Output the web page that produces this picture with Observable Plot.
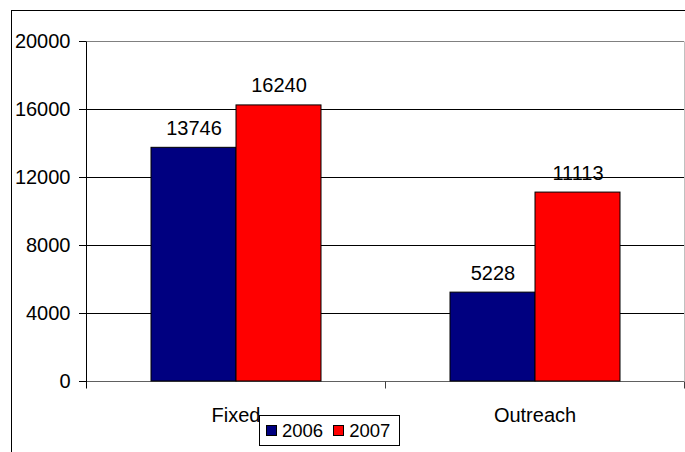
<!DOCTYPE html>
<html>
<head>
<meta charset="utf-8">
<script src="https://cdn.jsdelivr.net/npm/d3@7"></script>
<script src="https://cdn.jsdelivr.net/npm/@observablehq/plot@0.6"></script>
<style>
  body { margin: 0; background: #fff; }
  #wrap { position: relative; width: 685px; height: 452px; overflow: hidden; font-family: "Liberation Sans", Arial, sans-serif; background: #fff; }
  #border { position: absolute; left: 11px; top: 10px; width: 720px; height: 520px; border: 1px solid #000; box-sizing: border-box; }
  #chart { position: absolute; left: 0; top: 0; }
  #legend { position: absolute; left: 259px; top: 415px; width: 141px; height: 31px; border: 1px solid #000; background: #fff; box-sizing: border-box; display: flex; align-items: center; font-size: 18.5px; color: #000; padding-left: 6px; }
  #legend .sw { width: 11px; height: 11px; box-sizing: border-box; border: 1px solid #000; display: inline-block; margin-right: 5px; }
  #legend .item { display: flex; align-items: center; margin-right: 10px; }
</style>
</head>
<body>
<div id="wrap">
  <div id="border"></div>
  <div id="chart"></div>
  <div id="legend"></div>
</div>
<script>
const categories = ["Fixed", "Outreach"];
const years = ["2006", "2007"];
const values2006 = [13746, 5228];
const values2007 = [16240, 11113];
const yTicks = [0, 4000, 8000, 12000, 16000, 20000];
const colors = ["#000080", "#ff0000"];

const data = categories.flatMap((c, i) => [
  {cat: c, year: years[0], value: values2006[i]},
  {cat: c, year: years[1], value: values2007[i]}
]);

const chart = Plot.plot({
  width: 685,
  height: 452,
  marginLeft: 86,
  marginRight: 1,
  marginTop: 41,
  marginBottom: 71,
  style: {background: "transparent", fontFamily: "Liberation Sans, Arial, sans-serif", fontSize: "20px", color: "#000", overflow: "visible"},
  fx: {domain: categories, padding: 0, label: null, axis: "bottom", tickSize: 0, tickPadding: 26},
  x: {domain: years, paddingInner: 0, paddingOuter: 0.7384, axis: null},
  y: {domain: [0, 20000], ticks: yTicks, tickSize: 7, tickPadding: 9, tickFormat: d => String(d), label: null},
  color: {domain: years, range: colors},
  marks: [
    Plot.ruleY(yTicks.slice(1, -1), {stroke: "#000", strokeWidth: 1}),
    Plot.ruleY([yTicks[yTicks.length - 1]], {stroke: "#808080", strokeWidth: 1}),
    Plot.ruleY([0], {stroke: "#606060", strokeWidth: 1}),
    Plot.barY(data, {fx: "cat", x: "year", y: "value", fill: "year", stroke: "#000", strokeWidth: 1}),
    Plot.text(data, {fx: "cat", x: "year", y: "value", text: d => String(d.value), lineAnchor: "bottom", dy: -13, fontSize: 20, fill: "#000"})
  ]
});
document.getElementById("chart").appendChild(chart);

// axis line, plot border and category boundary ticks drawn from the chart's scales
const svg = d3.select(chart);
const ys = chart.scale("y");
const fxs = chart.scale("fx");
const y0 = ys.apply(0), yTop = ys.apply(yTicks[yTicks.length - 1]);
const edges = [...categories.map(c => fxs.apply(c)), fxs.apply(categories[categories.length - 1]) + fxs.bandwidth];
const g = svg.append("g").attr("transform", "translate(0.5,0.5)");
// right plot-area border
g.append("line").attr("x1", edges[edges.length - 1]).attr("x2", edges[edges.length - 1]).attr("y1", yTop).attr("y2", y0).attr("stroke", "#c0c0c0");
// boundary ticks
edges.slice(1).forEach(x => {
  g.append("line").attr("x1", x).attr("x2", x).attr("y1", y0).attr("y2", y0 + 7).attr("stroke", "#404040");
});
// y axis line
g.append("line").attr("x1", edges[0]).attr("x2", edges[0]).attr("y1", yTop).attr("y2", y0 + 7).attr("stroke", "#000");

// legend
const legend = d3.select("#legend");
years.forEach((yr, i) => {
  const item = legend.append("span").attr("class", "item");
  item.append("span").attr("class", "sw").style("background", colors[i]);
  item.append("span").text(yr);
});
</script>
</body>
</html>
